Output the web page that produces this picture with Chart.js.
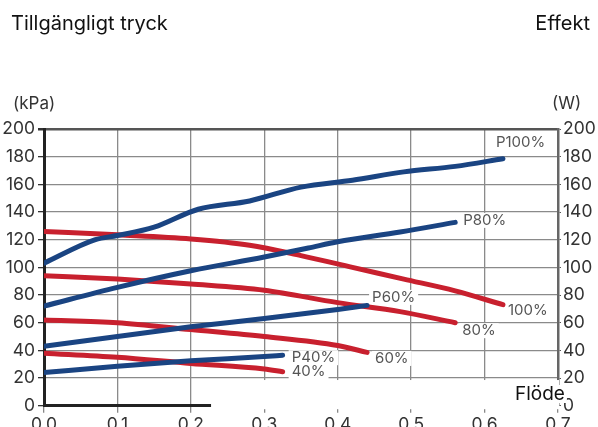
<!DOCTYPE html>
<html>
<head>
<meta charset="utf-8">
<script src="https://cdn.jsdelivr.net/npm/chart.js@4/dist/chart.umd.min.js"></script>
<style>body{margin:0;background:#fff}</style>
</head>
<body>
<canvas id="chart" width="598" height="427"></canvas>
<script>
// Flöde (x) and values
const flowP100 = [0, 0.07, 0.1, 0.15, 0.21, 0.28, 0.35, 0.42, 0.49, 0.56, 0.625];
const powerP100 = [103, 120, 123, 129, 142, 148, 158, 163, 169, 173, 178.5];
const flowP80 = [0, 0.1, 0.2, 0.3, 0.36, 0.4, 0.485, 0.56];
const powerP80 = [72, 85.5, 97.5, 107.5, 114, 118.5, 125.5, 132.5];
const flowP60 = [0, 0.1, 0.2, 0.3, 0.4, 0.44];
const powerP60 = [43, 50, 57, 63, 69.5, 72.5];
const flowP40 = [0, 0.1, 0.2, 0.3, 0.325];
const powerP40 = [24, 28.5, 32.5, 35.5, 36.5];

const flow100 = [0, 0.1, 0.2, 0.28, 0.35, 0.42, 0.49, 0.56, 0.625];
const press100 = [126, 123.5, 120.5, 116, 108.5, 100, 91.5, 83, 73];
const flow80 = [0, 0.1, 0.2, 0.3, 0.4, 0.485, 0.56];
const press80 = [94, 91.5, 88, 83.5, 74.5, 68, 60];
const flow60 = [0, 0.1, 0.2, 0.3, 0.4, 0.44];
const press60 = [62, 60, 55, 50, 43.5, 38.5];
const flow40 = [0, 0.1, 0.2, 0.3, 0.325];
const press40 = [38, 35, 30.5, 26.5, 24.5];

const xTicks = [0, 0.1, 0.2, 0.3, 0.4, 0.5, 0.6, 0.7];

const BLUE = '#1a4482';
const RED = '#c8202e';
const FONT = 'Inter, "Noto Sans", sans-serif';

function pts(xs, ys) {
    return xs.map((x, i) => ({ x: x, y: ys[i] }));
}

// label text + offset from the line end
function series(label, xs, ys, color, axis, dx, dy) {
    return {
        label: label,
        data: pts(xs, ys),
        borderColor: color,
        backgroundColor: color,
        borderWidth: 5,
        borderCapStyle: 'round',
        borderJoinStyle: 'round',
        pointRadius: 0,
        cubicInterpolationMode: 'monotone',
        yAxisID: axis,
        endLabel: { dx: dx, dy: dy }
    };
}

const datasets = [
    series('P100%', flowP100, powerP100, BLUE, 'y2', -7, -16),
    series('P80%', flowP80, powerP80, BLUE, 'y2', 8, -2),
    series('P60%', flowP60, powerP60, BLUE, 'y2', 5, -8),
    series('P40%', flowP40, powerP40, BLUE, 'y2', 9, 2.5),
    series('100%', flow100, press100, RED, 'y', 5, 5.5),
    series('80%', flow80, press80, RED, 'y', 7, 8),
    series('60%', flow60, press60, RED, 'y', 8, 6),
    series('40%', flow40, press40, RED, 'y', 9, 0)
];

function labelBox(chart, i) {
    const ds = chart.data.datasets[i];
    const meta = chart.getDatasetMeta(i);
    const last = meta.data[meta.data.length - 1];
    const ctx = chart.ctx;
    ctx.font = '15px ' + FONT;
    const w = ctx.measureText(ds.label).width;
    return { x: last.x + ds.endLabel.dx, y: last.y + ds.endLabel.dy, w: w, text: ds.label };
}

const decor = {
    id: 'decor',
    beforeDatasetsDraw(chart) {
        const { ctx, chartArea, scales } = chart;
        ctx.save();
        ctx.fillStyle = '#fff';
        // blank strip at the bottom right, like in the original
        const x1 = scales.x.getPixelForValue(0.2275);
        const y1 = scales.y.getPixelForValue(20) + 2;
        ctx.fillRect(x1, y1, chartArea.right + 1 - x1, chartArea.bottom + 3.5 - y1);
        chart.data.datasets.forEach((ds, i) => {
            const b = labelBox(chart, i);
            ctx.fillRect(b.x - 3, b.y - 7.5, b.w + 6, 15);
        });
        ctx.restore();
    },
    afterDatasetsDraw(chart) {
        const ctx = chart.ctx;
        ctx.save();
        ctx.fillStyle = '#555';
        ctx.textBaseline = 'middle';
        ctx.textAlign = 'left';
        chart.data.datasets.forEach((ds, i) => {
            const b = labelBox(chart, i);
            ctx.font = '15px ' + FONT;
            ctx.fillText(b.text, b.x, b.y);
        });
        ctx.restore();
    },
    afterDraw(chart) {
        const ctx = chart.ctx;
        ctx.save();
        ctx.textBaseline = 'middle';
        ctx.fillStyle = '#111';
        ctx.font = '20px ' + FONT;
        ctx.textAlign = 'left';
        ctx.fillText('Tillgängligt tryck', 11, 24);
        ctx.textAlign = 'right';
        ctx.fillText('Effekt', 590, 24);
        ctx.fillStyle = '#333';
        ctx.font = '17px ' + FONT;
        ctx.textAlign = 'left';
        ctx.fillText('(kPa)', 13, 104);
        ctx.fillText('(W)', 552, 104);
        // x axis title with white backing
        ctx.font = '19px ' + FONT;
        const w = ctx.measureText('Flöde').width;
        ctx.fillStyle = '#fff';
        ctx.fillRect(514, 385, w + 3, 18);
        ctx.fillStyle = '#111';
        ctx.fillText('Flöde', 515, 394);
        ctx.restore();
    }
};

new Chart(document.getElementById('chart'), {
    type: 'line',
    data: { datasets: datasets },
    plugins: [decor],
    options: {
        responsive: false,
        animation: false,
        devicePixelRatio: 1,
        layout: { padding: { top: 129, left: 0, right: 0, bottom: 0 } },
        plugins: { legend: { display: false }, tooltip: { enabled: false } },
        scales: {
            x: {
                type: 'linear',
                min: 0,
                max: 0.7,
                afterBuildTicks: s => { s.ticks = xTicks.map(v => ({ value: v })); },
                afterFit: s => { s.height = 21.3; },
                ticks: {
                    callback: v => v.toFixed(1),
                    color: '#333',
                    font: { family: FONT, size: 17.5 },
                    padding: 2,
                    maxRotation: 0
                },
                grid: { color: '#8a8a8a', lineWidth: 1.3, tickLength: 7, tickColor: '#888' },
                border: { color: '#222', width: 3 }
            },
            y: {
                position: 'left',
                min: 0,
                max: 200,
                afterFit: s => { s.width = 44; },
                ticks: {
                    stepSize: 20,
                    color: '#333',
                    font: { family: FONT, size: 17.5 },
                    padding: 3
                },
                grid: {
                    color: c => c.tick && c.tick.value === 200 ? '#555' : '#8a8a8a',
                    lineWidth: c => c.tick && c.tick.value === 200 ? 2.5 : 1.3,
                    tickLength: 6,
                    tickColor: '#333'
                },
                border: { color: '#222', width: 3 }
            },
            y2: {
                position: 'right',
                min: 0,
                max: 200,
                afterFit: s => { s.width = 40; },
                ticks: {
                    stepSize: 20,
                    color: '#333',
                    font: { family: FONT, size: 17.5 },
                    padding: 2
                },
                grid: { drawOnChartArea: false, tickLength: 3, tickColor: '#555' },
                border: { color: '#666', width: 2.5 }
            }
        }
    }
});
</script>
</body>
</html>
